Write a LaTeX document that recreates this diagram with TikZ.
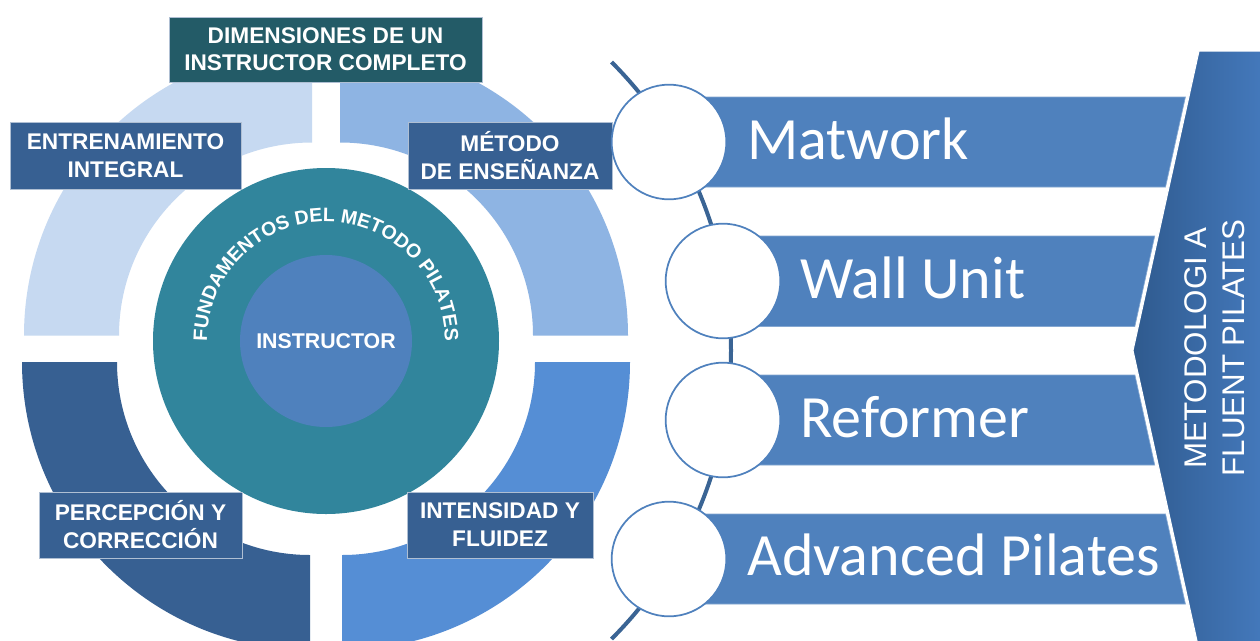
\documentclass[tikz,border=0pt]{standalone}
\usepackage{fontspec}
\setmainfont{Liberation Sans}
\newfontfamily\calib{Carlito}
\usetikzlibrary{decorations.text,calc}
\definecolor{hdr}{HTML}{235B67}
\definecolor{lbl}{HTML}{376092}
\definecolor{qtl}{HTML}{C6D9F1}
\definecolor{qtr}{HTML}{8EB4E3}
\definecolor{qbl}{HTML}{376092}
\definecolor{qbr}{HTML}{558ED5}
\definecolor{tealc}{HTML}{31859C}
\definecolor{innerc}{HTML}{4F81BD}
\definecolor{barc}{HTML}{4F81BD}
\definecolor{spinec}{HTML}{3A6494}
\definecolor{chevL}{HTML}{2F5A8E}
\definecolor{chevR}{HTML}{4479BC}
\newcommand{\ringpart}[4]{%
  \fill[#1] ($#2+(#3:288)$) arc[start angle=#3,end angle=#4,radius=288]
    -- ($#2+(#4:193)$) arc[start angle=#4,end angle=#3,radius=193] -- cycle;}
\begin{document}
\begin{tikzpicture}[x=0.75pt,y=-0.75pt,
  lblbox/.style={fill=lbl,draw=white!60!lbl,line width=0.6pt,text=white,
    font=\fontsize{17}{21}\selectfont\bfseries,align=center,inner sep=0pt},
  circ/.style={circle,fill=white,draw=innerc,line width=1.3pt,minimum size=86pt,inner sep=0pt},
  bartxt/.style={font=\calib\fontsize{45}{54}\selectfont,text=white,inner sep=0pt,anchor=base west},
  barshape/.style={fill=barc,draw=white!30!barc,line width=0.5pt}]
\useasboundingbox (0,0) rectangle (1260,640);
\fill[white] (0,0) rectangle (1260,640);
% ring
\ringpart{qtl}{(312,335.5)}{180}{270}
\ringpart{qtr}{(340,335.5)}{270}{360}
\ringpart{qbl}{(310,362)}{90}{180}
\ringpart{qbr}{(342,362)}{0}{90}
% centre circles
\node[circle,fill=tealc,minimum size=259.5pt,inner sep=0pt] (fund) at (326,341) {};
\node[circle,fill=innerc,minimum size=129pt,inner sep=0pt,text=white,
  font=\fontsize{16}{19}\selectfont\bfseries] (instr) at (326,341) {INSTRUCTOR};
\path[decorate,decoration={text along path,text align=center,
  text={|\fontsize{14.6}{17}\selectfont\bfseries\color{white}|FUNDAMENTOS DEL METODO PILATES}}]
  (fund.center) ++(170:119) arc[start angle=170,end angle=370,radius=119];
% labels
\node[lblbox,fill=hdr,minimum width=234.75pt,minimum height=48.75pt,
  font=\fontsize{17}{20.3}\selectfont\bfseries] (head) at (325.5,49.5) {DIMENSIONES DE UN\\INSTRUCTOR COMPLETO};
\node[lblbox,minimum width=173.25pt,minimum height=50.25pt] (ent) at (125.5,155.5) {ENTRENAMIENTO\\INTEGRAL};
\node[lblbox,minimum width=153pt,minimum height=50.25pt] (met) at (510,155.5) {MÉTODO\\DE ENSEÑANZA};
\node[lblbox,minimum width=152.25pt,minimum height=49.5pt] (per) at (140.5,525) {PERCEPCIÓN Y\\CORRECCIÓN};
\node[lblbox,minimum width=139.5pt,minimum height=49.5pt] (int) at (500,525) {INTENSIDAD Y\\FLUIDEZ};
% bars
\path[barshape] (669,97) -- (1185.4,97) -- (1165.5,187) -- (669,187) -- cycle;
\path[barshape] (723,236) -- (1154.7,236) -- (1134.8,326.5) -- (723,326.5) -- cycle;
\path[barshape] (723,375) -- (1134.9,375) -- (1154.7,465) -- (723,465) -- cycle;
\path[barshape] (669,514) -- (1165.5,514) -- (1185.4,604) -- (669,604) -- cycle;
% spine
\coordinate (spc) at (323,350.5);
\coordinate (spinetop) at ($(spc)+(-45:408)$);
\draw[spinec,line width=3pt] (spinetop) arc[start angle=-45,end angle=45,radius=408];
% circles
\node[circ] (c1) at (669,142) {};
\node[circ] (c2) at (723,281) {};
\node[circ] (c3) at (723,420) {};
\node[circ] (c4) at (669,559) {};
\node[bartxt] (t1) at (747,159) {Matwork};
\node[bartxt] (t2) at (800,298) {Wall Unit};
\node[bartxt] (t3) at (800,437) {Reformer};
\node[bartxt] (t4) at (747,575.5) {Advanced Pilates};
% chevron
\path[left color=chevL,right color=chevR,draw=white,line width=0.8pt]
  (1199,51) -- (1264,51) -- (1264,655) -- (1199,650) -- (1133,350.5) -- cycle;
\node[rotate=90,text=white,font=\fontsize{23.5}{28.5}\selectfont,align=center,inner sep=0pt]
  (meto) at (1214.5,348) {METODOLOGI A\\FLUENT PILATES};
\end{tikzpicture}
\end{document}
